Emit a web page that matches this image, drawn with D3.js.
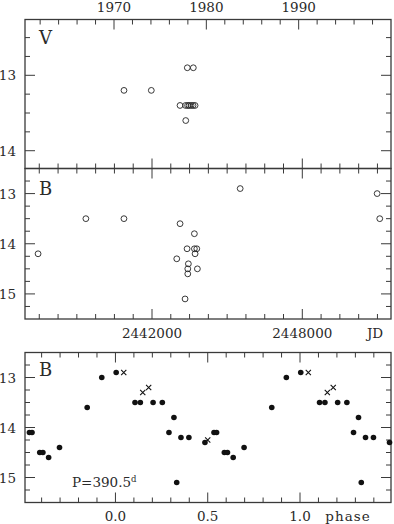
<!DOCTYPE html>
<html><head><meta charset="utf-8">
<script src="https://cdn.jsdelivr.net/npm/d3@7"></script>
<style>
html,body{margin:0;padding:0;background:#fff;}
svg{display:block;}
text{font-family:"DejaVu Serif",serif;fill:#2a2a2a;}
</style></head>
<body>
<svg id="c" width="394" height="524"></svg>
<script>
// ---- data ----
// Panel 1: V magnitude vs year
const vYears = [1971.08, 1974.04, 1977.15, 1977.75, 1977.97, 1978.13, 1978.35, 1978.56, 1978.78, 1977.77, 1977.94, 1978.59];
const vMags  = [13.2, 13.2, 13.4, 13.4, 13.4, 13.4, 13.4, 13.4, 13.4, 13.6, 12.9, 12.9];
// Panel 2: B magnitude vs JD
const bJD   = [2437452, 2439360, 2440880, 2443120, 2443692, 2443400, 2443692, 2443788, 2443720, 2442988, 2443452, 2443428, 2443812, 2443428, 2443320, 2445520, 2450988, 2451092];
const bMags = [14.2, 13.5, 13.5, 13.6, 13.8, 14.1, 14.1, 14.1, 14.2, 14.3, 14.4, 14.5, 14.5, 14.6, 15.1, 12.9, 13.0, 13.5];
// Panel 3: B vs phase (P = 390.5 d), base phases in [0,1)
const phDots     = [0.004, 0.106, 0.135, 0.204, 0.254, 0.29, 0.317, 0.332, 0.355, 0.398, 0.485, 0.534, 0.548, 0.59, 0.607, 0.638, 0.697, 0.847, 0.926];
const phDotMags  = [12.9, 13.5, 13.5, 13.5, 13.5, 14.1, 13.8, 15.1, 14.2, 14.2, 14.3, 14.1, 14.1, 14.5, 14.5, 14.6, 14.4, 13.6, 13.0];
const phCross    = [0.045, 0.148, 0.18, 0.5];
const phCrossMags= [12.9, 13.3, 13.2, 14.25];
// tick labels
const yearLabels  = [1970, 1980, 1990];
const jdLabels    = [2442000, 2448000];
const phaseLabels = [0.0, 0.5, 1.0];
const magLabelsV  = [13, 14];
const magLabelsB  = [13, 14, 15];
const periodText  = "P=390.5";

// ---- layout ----
const L = 25, R = 391;
const svg = d3.select("#c");
const frameColor = "#3a3a3a";

const xYear  = d3.scaleLinear().domain([1960.36, 2000.0]).range([L, R]);
const xJD    = d3.scaleLinear().domain([2436930, 2451541]).range([L, R]);
const xPhase = d3.scaleLinear().domain([-0.49, 1.493]).range([L, R]);

const yV  = d3.scaleLinear().domain([12.26, 14.236]).range([19.5, 168.5]);
const yB  = d3.scaleLinear().domain([12.5, 15.5]).range([168.5, 319]);
const yP  = d3.scaleLinear().domain([12.5, 15.5]).range([352.5, 502.5]);

function range(a, b, s) { const r = []; for (let v = a; v <= b + 1e-9; v += s) r.push(+v.toFixed(6)); return r; }

function ticksX(scale, vals, majorFn, yEdge, dir) {
  svg.append("g").selectAll("line").data(vals).join("line")
    .attr("x1", d => scale(d)).attr("x2", d => scale(d))
    .attr("y1", yEdge).attr("y2", d => yEdge + dir * (majorFn(d) ? 10 : 5))
    .attr("stroke", frameColor).attr("stroke-width", 1);
}
function ticksY(scale, vals, majorFn, xEdge, dir) {
  svg.append("g").selectAll("line").data(vals).join("line")
    .attr("y1", d => scale(d)).attr("y2", d => scale(d))
    .attr("x1", xEdge).attr("x2", d => xEdge + dir * (majorFn(d) ? 10 : 5))
    .attr("stroke", frameColor).attr("stroke-width", 1);
}
function frame(y0, y1) {
  svg.append("rect").attr("x", L).attr("y", y0).attr("width", R - L).attr("height", y1 - y0)
    .attr("fill", "none").attr("stroke", frameColor).attr("stroke-width", 1.3);
}
const isInt = d => Math.abs(d - Math.round(d)) < 1e-6;

const yearTicks  = range(1962, 2000, 2).filter(d => xYear(d) > L + 0.5 && xYear(d) < R - 0.5);
const jdTicks    = range(2437500, 2451000, 750);
const phaseTicks = range(-0.4, 1.4, 0.1);
const jdMajor = d => (d % 6000) === 0;
const yrMajor = d => d % 10 === 0;
const phMajor = d => Math.abs(d * 2 - Math.round(d * 2)) < 1e-6;

// ---- Panel 1 ----
{
  const [y0, y1] = yV.range();
  frame(y0, y1);
  ticksX(xYear, yearTicks, yrMajor, y0, 1);
  ticksX(xJD, jdTicks, jdMajor, y1, -1);
  const mt = range(12.5, 14.0, 0.25);
  ticksY(yV, mt, isInt, L, 1);
  ticksY(yV, mt, isInt, R, -1);
  svg.append("g").selectAll("text").data(yearLabels).join("text")
    .attr("x", d => xYear(d)).attr("y", 12).attr("text-anchor", "middle")
    .attr("font-size", 13.5).text(d => d);
  svg.append("g").selectAll("text").data(magLabelsV).join("text")
    .attr("x", 16).attr("y", d => yV(d) + 5).attr("text-anchor", "end")
    .attr("font-size", 13.5).text(d => d);
  svg.append("text").attr("x", 39).attr("y", 44).attr("font-size", 18).text("V");
  svg.append("g").selectAll("circle").data(vYears).join("circle")
    .attr("cx", d => xYear(d)).attr("cy", (d, i) => yV(vMags[i])).attr("r", 2.9)
    .attr("fill", "none").attr("stroke", "#222").attr("stroke-width", 0.9);
}

// ---- Panel 2 ----
{
  const [y0, y1] = yB.range();
  frame(y0, y1);
  ticksX(xJD, jdTicks, jdMajor, y0, 1);
  ticksX(xJD, jdTicks, jdMajor, y1, -1);
  const mt = range(12.75, 15.25, 0.25);
  ticksY(yB, mt, isInt, L, 1);
  ticksY(yB, mt, isInt, R, -1);
  svg.append("g").selectAll("text").data(magLabelsB).join("text")
    .attr("x", 16).attr("y", d => yB(d) + 5).attr("text-anchor", "end")
    .attr("font-size", 13.5).text(d => d);
  svg.append("g").selectAll("text").data(jdLabels).join("text")
    .attr("x", d => xJD(d)).attr("y", 338).attr("text-anchor", "middle")
    .attr("font-size", 13.5).text(d => d);
  svg.append("text").attr("x", 375).attr("y", 338).attr("text-anchor", "middle")
    .attr("font-size", 13.5).text("JD");
  svg.append("text").attr("x", 39).attr("y", 195).attr("font-size", 18).text("B");
  svg.append("g").selectAll("circle").data(bJD).join("circle")
    .attr("cx", d => xJD(d)).attr("cy", (d, i) => yB(bMags[i])).attr("r", 2.9)
    .attr("fill", "none").attr("stroke", "#222").attr("stroke-width", 0.9);
}

// ---- Panel 3 ----
{
  const [y0, y1] = yP.range();
  frame(y0, y1);
  ticksX(xPhase, phaseTicks, phMajor, y0, 1);
  ticksX(xPhase, phaseTicks, phMajor, y1, -1);
  const mt = range(12.75, 15.25, 0.25);
  ticksY(yP, mt, isInt, L, 1);
  ticksY(yP, mt, isInt, R, -1);
  svg.append("g").selectAll("text").data(magLabelsB).join("text")
    .attr("x", 16).attr("y", d => yP(d) + 5).attr("text-anchor", "end")
    .attr("font-size", 13.5).text(d => d);
  svg.append("g").selectAll("text").data(phaseLabels).join("text")
    .attr("x", d => xPhase(d)).attr("y", 521).attr("text-anchor", "middle")
    .attr("font-size", 13.5).text(d => d.toFixed(1));
  svg.append("text").attr("x", 348).attr("y", 521).attr("text-anchor", "middle")
    .attr("font-size", 13.5).attr("letter-spacing", 1).text("phase");
  svg.append("text").attr("x", 39).attr("y", 376).attr("font-size", 18).text("B");
  const pt = svg.append("text").attr("x", 72).attr("y", 487).attr("font-size", 13.5).text(periodText);
  pt.append("tspan").attr("font-size", 8.5).attr("dy", -5.5).text("d");

  const [d0, d1] = xPhase.domain();
  const fold = (ph, mg) => {
    const out = [];
    ph.forEach((p, i) => [-1, 0, 1].forEach(k => {
      const q = p + k;
      if (q >= d0 && q <= d1) out.push({ p: q, m: mg[i] });
    }));
    return out;
  };
  svg.append("g").selectAll("circle").data(fold(phDots, phDotMags)).join("circle")
    .attr("cx", d => xPhase(d.p)).attr("cy", d => yP(d.m)).attr("r", 2.8)
    .attr("fill", "#111");
  const s = 2.6;
  svg.append("g").selectAll("path").data(fold(phCross, phCrossMags)).join("path")
    .attr("d", d => {
      const x = xPhase(d.p), y = yP(d.m);
      return `M${x - s},${y - s}L${x + s},${y + s}M${x - s},${y + s}L${x + s},${y - s}`;
    })
    .attr("stroke", "#111").attr("stroke-width", 1.1).attr("fill", "none");
}
</script>
</body></html>
